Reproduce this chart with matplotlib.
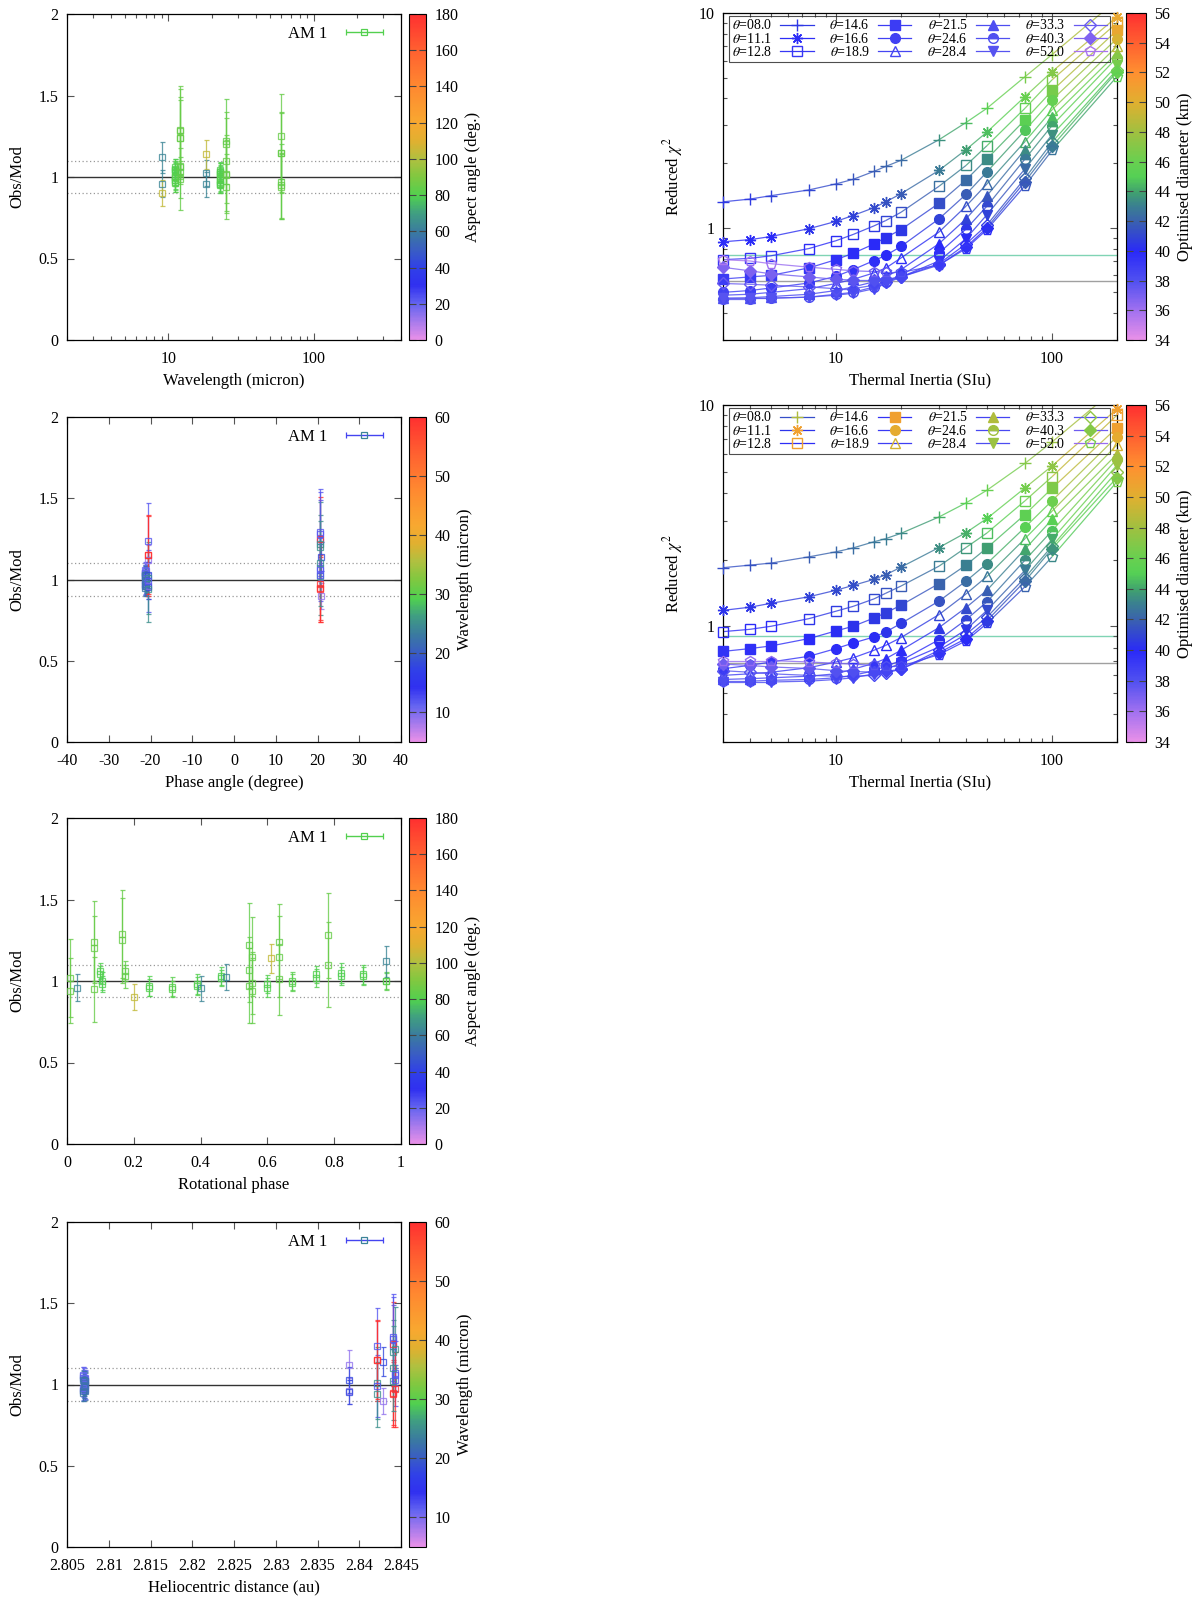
import numpy as np
import matplotlib
matplotlib.use("Agg")
import matplotlib.pyplot as plt
from matplotlib.colors import LinearSegmentedColormap, Normalize
from matplotlib.collections import LineCollection
from matplotlib.lines import Line2D
from matplotlib.cm import ScalarMappable
from matplotlib.legend_handler import HandlerErrorbar
from matplotlib.ticker import MultipleLocator, LogLocator, NullFormatter, FuncFormatter

plt.rcParams['font.family'] = ['Liberation Serif', 'DejaVu Serif']
plt.rcParams['mathtext.fontset'] = 'stix'
plt.rcParams['font.size'] = 11
plt.rcParams['axes.unicode_minus'] = False

# palettes
left_nodes = [0.0, 0.11, 0.167, 0.22, 0.28, 0.33, 0.39, 0.44, 0.5, 0.556, 0.61, 0.667, 0.78, 0.89, 1.0]
left_cols = ['#e890e8', '#6464f0', '#3030f0', '#3040e8', '#3a60c0', '#3a7aa0', '#40a080', '#50d050',
             '#80c840', '#b0c040', '#e0b030', '#f8a830', '#ff8830', '#ff6030', '#ff3030']
right_nodes = [0.0, 0.09, 0.18, 0.27, 0.36, 0.41, 0.45, 0.5, 0.545, 0.636, 0.727, 0.818, 0.909, 1.0]
right_cols = ['#e890e8', '#a070f0', '#5050f0', '#2a2af8', '#3a60b0', '#3a8090', '#40a070', '#55d055',
              '#68d050', '#a0c040', '#e0b030', '#ff9030', '#ff6030', '#ff3030']
cmap_l = LinearSegmentedColormap.from_list('gp_l', list(zip(left_nodes, left_cols)))
cmap_r = LinearSegmentedColormap.from_list('gp_r', list(zip(right_nodes, right_cols)))

# ---- observations (WISE 24, AKARI 6, IRAS 20)
obs_wave = [11.1, 22.6, 11.1, 22.6, 11.1, 22.6, 11.1, 22.6, 11.1, 22.6, 11.1, 22.6,
            11.1, 22.6, 11.1, 22.6, 11.1, 22.6, 11.1, 22.6, 11.1, 22.6, 11.1, 22.6,
            9.0, 9.0, 18.0, 18.0, 9.0, 18.0,
            12, 60, 25, 12, 25, 60, 25, 60, 12, 25, 60, 12, 60, 12, 12, 25, 12, 60, 12, 25]
obs_ratio = [1.06, 1.04, 1.00, 0.98, 0.97, 0.96, 0.965, 0.95, 0.98, 0.97, 1.03, 1.02,
             0.98, 0.96, 1.00, 0.99, 1.04, 1.02, 1.05, 1.03, 1.04, 1.03, 1.00, 1.00,
             1.12, 0.96, 1.025, 0.955, 0.90, 1.14,
             1.24, 1.15, 1.01, 0.99, 0.94, 1.15, 1.02, 0.94, 1.24, 1.20, 0.95, 1.29, 1.25,
             1.06, 1.03, 1.22, 1.07, 0.97, 1.28, 1.10]
obs_err = [0.05, 0.05, 0.055, 0.05, 0.06, 0.055, 0.06, 0.05, 0.06, 0.055, 0.055, 0.05,
           0.055, 0.06, 0.055, 0.05, 0.05, 0.055, 0.06, 0.055, 0.06, 0.055, 0.05, 0.055,
           0.095, 0.08, 0.08, 0.075, 0.08, 0.09,
           0.23, 0.25, 0.22, 0.19, 0.20, 0.24, 0.24, 0.20, 0.25, 0.20, 0.20, 0.27, 0.26,
           0.06, 0.07, 0.26, 0.20, 0.23, 0.26, 0.26]
obs_aspect = [80, 80, 79, 79, 80, 80, 81, 81, 80, 80, 79, 79,
              80, 80, 81, 81, 80, 80, 79, 79, 80, 80, 81, 81,
              63, 63, 63, 63, 104, 104,
              84, 84, 84, 84, 84, 84, 85, 85, 85, 85, 85, 85, 85,
              83, 83, 83, 83, 83, 85, 85]
obs_phase = [-21.3, -21.3, -21.1, -21.1, -21.4, -21.4, -21.2, -21.2, -21.0, -21.0, -21.3, -21.3,
             -21.1, -21.1, -21.4, -21.4, -21.2, -21.2, -21.0, -21.0, -21.3, -21.3, -21.1, -21.1,
             -20.5, -20.5, -20.5, -20.5, 20.9, 20.9,
             -20.6, -20.6, -20.6, -20.6, -20.6, -20.6, 20.5, 20.5, 20.5, 20.5, 20.5, 20.5, 20.5,
             20.5, 20.5, 20.5, 20.5, 20.5, 20.5, 20.5]
obs_rot = [0.10, 0.10, 0.105, 0.105, 0.245, 0.245, 0.315, 0.315, 0.39, 0.39, 0.46, 0.46,
           0.60, 0.60, 0.675, 0.675, 0.745, 0.745, 0.82, 0.82, 0.885, 0.885, 0.955, 0.955,
           0.955, 0.03, 0.475, 0.40, 0.20, 0.61,
           0.635, 0.635, 0.635, 0.555, 0.555, 0.555, 0.01, 0.01, 0.08, 0.08, 0.08, 0.165, 0.165,
           0.175, 0.175, 0.545, 0.545, 0.545, 0.78, 0.78]
obs_rh = [2.8069, 2.8069, 2.8070, 2.8070, 2.8071, 2.8071, 2.8069, 2.8069, 2.8070, 2.8070, 2.8071, 2.8071,
          2.8069, 2.8069, 2.8070, 2.8070, 2.8071, 2.8071, 2.8069, 2.8069, 2.8070, 2.8070, 2.8071, 2.8071,
          2.8388, 2.8388, 2.8388, 2.8388, 2.8429, 2.8429,
          2.8421, 2.8421, 2.8421, 2.8421, 2.8421, 2.8421, 2.8440, 2.8440, 2.8440, 2.8440, 2.8440, 2.8440, 2.8440,
          2.8443, 2.8443, 2.8443, 2.8443, 2.8443, 2.8440, 2.8440]

# ---- thermal inertia fits
ti = [3, 4, 5, 7.5, 10, 12, 15, 17, 20, 30, 40, 50, 75, 100, 200]
theta_labels = [r'$\theta$=08.0', r'$\theta$=11.1', r'$\theta$=12.8', r'$\theta$=14.6',
                r'$\theta$=16.6', r'$\theta$=18.9', r'$\theta$=21.5', r'$\theta$=24.6',
                r'$\theta$=28.4', r'$\theta$=33.3', r'$\theta$=40.3', r'$\theta$=52.0']

chi_a = [
    [1.32, 1.36, 1.41, 1.50, 1.60, 1.68, 1.83, 1.93, 2.06, 2.57, 3.09, 3.60, 5.05, 6.40, 11.5],
    [0.86, 0.88, 0.91, 0.99, 1.07, 1.14, 1.24, 1.32, 1.44, 1.85, 2.31, 2.79, 4.08, 5.33, 9.6],
    [0.71, 0.72, 0.74, 0.80, 0.87, 0.93, 1.02, 1.08, 1.18, 1.56, 1.95, 2.41, 3.60, 4.88, 9.0],
    [0.577, 0.59, 0.60, 0.65, 0.71, 0.76, 0.84, 0.90, 0.98, 1.30, 1.67, 2.09, 3.18, 4.34, 8.3],
    [0.50, 0.51, 0.524, 0.553, 0.594, 0.638, 0.703, 0.743, 0.818, 1.10, 1.43, 1.82, 2.84, 3.94, 7.6],
    [0.485, 0.49, 0.50, 0.52, 0.55, 0.575, 0.616, 0.649, 0.723, 0.955, 1.26, 1.60, 2.52, 3.54, 7.0],
    [0.47, 0.472, 0.478, 0.49, 0.51, 0.53, 0.56, 0.594, 0.638, 0.843, 1.10, 1.41, 2.31, 3.27, 6.5],
    [0.468, 0.468, 0.47, 0.475, 0.49, 0.50, 0.53, 0.56, 0.60, 0.763, 0.986, 1.26, 2.09, 2.99, 6.2],
    [0.47, 0.47, 0.47, 0.475, 0.485, 0.495, 0.52, 0.55, 0.59, 0.70, 0.89, 1.15, 1.88, 2.71, 5.7],
    [0.55, 0.545, 0.54, 0.53, 0.52, 0.52, 0.54, 0.56, 0.59, 0.68, 0.84, 1.03, 1.70, 2.50, 5.45],
    [0.654, 0.63, 0.61, 0.59, 0.575, 0.57, 0.57, 0.575, 0.59, 0.67, 0.813, 1.00, 1.64, 2.39, 5.33],
    [0.71, 0.70, 0.68, 0.655, 0.64, 0.63, 0.625, 0.62, 0.62, 0.67, 0.80, 0.98, 1.57, 2.29, 5.06],
]
diam_a = [
    [40.5, 40.6, 40.8, 41.0, 41.3, 41.5, 41.8, 42.0, 42.3, 43.5, 44.5, 45.3, 46.5, 47.3, 49.5],
    [39.8, 39.9, 40.0, 40.3, 40.6, 40.8, 41.2, 41.4, 41.8, 42.8, 43.8, 44.6, 46.0, 47.0, 50.5],
    [39.3, 39.4, 39.5, 39.8, 40.1, 40.3, 40.6, 40.9, 41.3, 42.5, 43.3, 44.2, 45.6, 46.8, 50.5],
    [39.0, 39.1, 39.2, 39.4, 39.6, 39.8, 40.0, 40.2, 40.5, 41.3, 42.3, 43.3, 45.3, 46.5, 50.5],
    [38.8, 38.9, 39.0, 39.2, 39.4, 39.5, 39.7, 39.9, 40.1, 40.8, 41.8, 42.8, 44.8, 45.8, 49.8],
    [38.5, 38.6, 38.7, 38.8, 39.0, 39.1, 39.3, 39.5, 39.7, 40.4, 41.3, 42.2, 44.2, 45.3, 49.0],
    [38.2, 38.3, 38.4, 38.5, 38.7, 38.8, 39.0, 39.2, 39.4, 40.0, 40.8, 41.5, 43.3, 44.5, 47.5],
    [38.0, 38.0, 38.1, 38.2, 38.4, 38.5, 38.7, 38.9, 39.1, 39.7, 40.4, 41.1, 42.8, 44.0, 47.0],
    [37.8, 37.8, 37.9, 38.0, 38.2, 38.3, 38.5, 38.7, 38.9, 39.5, 40.1, 40.8, 42.3, 43.5, 46.5],
    [37.4, 37.4, 37.5, 37.6, 37.8, 38.0, 38.2, 38.4, 38.7, 39.3, 39.8, 40.5, 42.0, 43.2, 46.2],
    [36.8, 36.9, 37.0, 37.2, 37.5, 37.7, 38.0, 38.2, 38.5, 39.1, 39.6, 40.2, 41.8, 42.9, 45.8],
    [35.8, 35.9, 36.0, 36.3, 36.6, 36.9, 37.3, 37.6, 38.0, 38.8, 39.4, 40.0, 41.5, 42.6, 45.5],
]
chi_b = [
    [1.84, 1.89, 1.93, 2.06, 2.17, 2.26, 2.41, 2.49, 2.63, 3.12, 3.61, 4.12, 5.45, 6.80, 12.0],
    [1.18, 1.22, 1.27, 1.36, 1.455, 1.53, 1.63, 1.71, 1.85, 2.27, 2.65, 3.07, 4.22, 5.30, 9.6],
    [0.946, 0.969, 1.00, 1.083, 1.17, 1.23, 1.33, 1.41, 1.52, 1.87, 2.27, 2.64, 3.69, 4.74, 9.0],
    [0.77, 0.793, 0.815, 0.88, 0.953, 1.00, 1.09, 1.15, 1.245, 1.56, 1.89, 2.26, 3.20, 4.20, 7.9],
    [0.643, 0.666, 0.69, 0.732, 0.793, 0.84, 0.895, 0.943, 1.03, 1.30, 1.60, 1.92, 2.80, 3.69, 7.2],
    [0.60, 0.61, 0.62, 0.65, 0.69, 0.72, 0.779, 0.82, 0.889, 1.13, 1.40, 1.68, 2.49, 3.31, 6.6],
    [0.575, 0.58, 0.585, 0.595, 0.61, 0.64, 0.68, 0.714, 0.779, 0.987, 1.215, 1.455, 2.23, 3.04, 6.0],
    [0.565, 0.565, 0.57, 0.575, 0.585, 0.60, 0.63, 0.66, 0.70, 0.87, 1.07, 1.29, 1.99, 2.70, 5.7],
    [0.56, 0.56, 0.56, 0.565, 0.575, 0.585, 0.61, 0.64, 0.68, 0.806, 0.966, 1.18, 1.79, 2.47, 5.35],
    [0.63, 0.62, 0.61, 0.60, 0.595, 0.595, 0.60, 0.615, 0.64, 0.78, 0.92, 1.10, 1.66, 2.30, 5.0],
    [0.675, 0.665, 0.655, 0.645, 0.63, 0.625, 0.62, 0.625, 0.64, 0.76, 0.88, 1.06, 1.60, 2.24, 4.7],
    [0.70, 0.70, 0.70, 0.69, 0.68, 0.675, 0.665, 0.66, 0.66, 0.745, 0.86, 1.03, 1.51, 2.06, 4.5],
]
diam_b = [
    [41.3, 41.4, 41.6, 41.9, 42.2, 42.4, 42.7, 42.9, 43.2, 44.3, 45.2, 45.9, 47.0, 47.8, 48.5],
    [40.3, 40.4, 40.5, 40.8, 41.1, 41.3, 41.7, 41.9, 42.3, 43.4, 44.3, 45.0, 46.4, 47.4, 51.0],
    [39.8, 39.9, 40.0, 40.3, 40.6, 40.8, 41.1, 41.4, 41.8, 42.9, 43.7, 44.6, 46.0, 47.2, 51.0],
    [39.5, 39.6, 39.7, 39.9, 40.1, 40.3, 40.5, 40.7, 41.0, 42.0, 43.0, 43.8, 45.5, 46.8, 51.0],
    [39.2, 39.3, 39.4, 39.6, 39.8, 39.9, 40.1, 40.3, 40.6, 41.4, 42.4, 43.3, 45.2, 46.2, 50.3],
    [38.9, 39.0, 39.1, 39.2, 39.4, 39.5, 39.7, 39.9, 40.2, 41.0, 41.8, 42.7, 44.6, 45.7, 49.6],
    [38.6, 38.7, 38.8, 38.9, 39.1, 39.2, 39.4, 39.6, 39.8, 40.5, 41.2, 41.9, 44.0, 45.2, 48.5],
    [38.4, 38.4, 38.5, 38.6, 38.8, 38.9, 39.1, 39.3, 39.5, 40.2, 40.9, 41.6, 43.4, 44.7, 48.0],
    [38.2, 38.2, 38.3, 38.4, 38.6, 38.7, 38.9, 39.1, 39.3, 39.9, 40.5, 41.2, 42.9, 44.2, 47.8],
    [37.8, 37.8, 37.9, 38.0, 38.2, 38.4, 38.6, 38.8, 39.1, 39.7, 40.2, 40.9, 42.5, 43.8, 47.4],
    [37.2, 37.3, 37.4, 37.6, 37.9, 38.1, 38.4, 38.6, 38.9, 39.5, 40.0, 40.6, 42.3, 43.6, 47.0],
    [36.2, 36.3, 36.4, 36.7, 37.0, 37.3, 37.7, 38.0, 38.4, 39.2, 39.8, 40.4, 42.0, 43.2, 46.5],
]
ref_a = [0.75, 0.567]   # teal, grey reference levels
ref_b = [0.90, 0.685]

mk_shape = ['+', (8, 2, 0), 's', 's', 'o', '^', '^', 'o', 'v', 'D', 'D', 'p']
mk_fill = ['full', 'full', 'none', 'full', 'full', 'none', 'full', 'top', 'full', 'none', 'full', 'none']
mk_size = [8, 8, 7, 6.5, 7, 7, 7, 7, 7, 6, 6, 7.5]

W, H = 1200, 1603
fig = plt.figure(figsize=(W / 100, H / 100), dpi=100)


def box(x0, y0, x1, y1):
    return [x0 / W, 1 - y1 / H, (x1 - x0) / W, (y1 - y0) / H]


gfmt = FuncFormatter(lambda v, p: '%g' % v)


def style_axes(ax):
    ax.tick_params(which='both', direction='in', top=True, right=True, color='#555555', width=0.8,
                   labelsize=11.5)
    ax.tick_params(which='major', length=5)
    ax.tick_params(which='minor', length=3)
    ax.tick_params(axis='x', which='both', pad=8)
    ax.tick_params(axis='y', which='both', pad=6)
    for s in ax.spines.values():
        s.set_linewidth(0.9)


def add_cbar(rect, cmap, norm, ticks, label):
    cax = fig.add_axes(rect)
    cb = fig.colorbar(ScalarMappable(norm=norm, cmap=cmap), cax=cax, ticks=ticks)
    cb.outline.set_linewidth(0.8)
    cax.tick_params(direction='in', left=True, right=True, length=5, width=0.8, color='#444444',
                    labelsize=11.5, pad=6)
    cax.yaxis.set_major_formatter(gfmt)
    cb.set_label(label, fontsize=12, labelpad=5)
    return cb


def obs_panel(rect, xvals, cvals, cmap, norm, xlabel, leg_line, leg_mark):
    ax = fig.add_axes(rect)
    for x, y, e, c in zip(xvals, obs_ratio, obs_err, cvals):
        col = cmap(norm(c))
        ax.errorbar([x], [y], yerr=[e], fmt='s', ms=5, mfc='none', mec=col, mew=0.9,
                    ecolor=col, elinewidth=0.9, capsize=1.8, capthick=0.9, alpha=0.8, zorder=3)
    ax.axhline(1.0, color='#333333', lw=1.0, zorder=2)
    for yv in (0.9, 1.1):
        ax.axhline(yv, color='#999999', lw=0.9, ls=(0, (1, 2)), zorder=2)
    h = ax.errorbar([np.nan], [np.nan], xerr=[1.0], fmt='s', ms=5, mfc='none', mec=leg_mark,
                    mew=0.9, ecolor=leg_line, elinewidth=1.0, capsize=2.5, capthick=1.0)
    ax.legend([h], ['AM 1'], loc='upper right', frameon=False, markerfirst=False,
              handlelength=3.0, fontsize=12, borderaxespad=0.3, handletextpad=0.7,
              handler_map={type(h): HandlerErrorbar(xerr_size=1.1)})
    ax.set_ylim(0, 2)
    ax.yaxis.set_major_locator(MultipleLocator(0.5))
    ax.yaxis.set_major_formatter(gfmt)
    ax.set_ylabel('Obs/Mod', fontsize=12, labelpad=10)
    ax.set_xlabel(xlabel, fontsize=12, labelpad=4)
    style_axes(ax)
    return ax


def marker_kw(i, col):
    kw = dict(marker=mk_shape[i], ms=mk_size[i], mec=col, mew=1.0)
    if mk_fill[i] == 'none':
        kw['mfc'] = 'none'
    elif mk_fill[i] == 'top':
        kw.update(mfc=col, fillstyle='top', markerfacecoloralt='none')
    else:
        kw['mfc'] = col
    return kw


norm_r = Normalize(34, 56)


def fit_panel(rect, chi, diam, refs, leg_from_last):
    ax = fig.add_axes(rect)
    ax.set_xscale('log')
    ax.set_yscale('log')
    ax.set_xlim(3, 200)
    ax.set_ylim(0.3, 10)
    ax.axhline(refs[0], color='#80d4b4', lw=1.0, zorder=1)
    ax.axhline(refs[1], color='#a0a0a0', lw=1.0, zorder=1)
    handles = []
    for i in range(len(theta_labels)):
        y = np.array(chi[i])
        d = np.array(diam[i])
        segs = [[(ti[j], y[j]), (ti[j + 1], y[j + 1])] for j in range(len(ti) - 1)]
        lc = LineCollection(segs, colors=cmap_r(norm_r((d[:-1] + d[1:]) / 2)), linewidths=0.9,
                            alpha=0.8, zorder=2)
        ax.add_collection(lc, autolim=False)
        for x, v, dd in zip(ti, y, d):
            if v > 10:
                continue
            ax.plot([x], [v], linestyle='none', clip_on=False, zorder=3,
                    **marker_kw(i, cmap_r(norm_r(dd))))
        mcol = cmap_r(norm_r(d[-1] if leg_from_last else d[0]))
        handles.append(Line2D([], [], color=cmap_r(norm_r(d[0])), lw=0.9, **marker_kw(i, mcol)))
    leg = ax.legend(handles, theta_labels, ncol=4, loc='upper left',
                    bbox_to_anchor=(0.015, 0.992, 0.967, 0), mode='expand', markerfirst=False,
                    fontsize=10, labelspacing=-0.05, handlelength=2.4, handletextpad=0.6,
                    columnspacing=0.6, borderpad=0.2, fancybox=False, edgecolor='#222222',
                    borderaxespad=0.0)
    leg.get_frame().set_facecolor('none')
    leg.get_frame().set_linewidth(0.8)
    ax.xaxis.set_major_formatter(gfmt)
    ax.yaxis.set_major_formatter(gfmt)
    ax.xaxis.set_minor_locator(LogLocator(subs=np.arange(2, 10)))
    ax.yaxis.set_minor_locator(LogLocator(subs=np.arange(2, 10)))
    ax.xaxis.set_minor_formatter(NullFormatter())
    ax.yaxis.set_minor_formatter(NullFormatter())
    ax.set_xlabel('Thermal Inertia (SIu)', fontsize=12, labelpad=4)
    ax.set_ylabel(r'Reduced $\chi^2$', fontsize=12, labelpad=10)
    style_axes(ax)
    return ax


# ---- left column
rows = [(14, 340), (417, 742), (818, 1144), (1222, 1547)]
norm_asp = Normalize(0, 180)
norm_wl = Normalize(5, 60)
green = cmap_l(norm_asp(80))
blue = cmap_l(norm_wl(13))
teal = cmap_l(norm_wl(24))

ax1 = obs_panel(box(67, rows[0][0], 401, rows[0][1]),
                obs_wave, obs_aspect, cmap_l, norm_asp, 'Wavelength (micron)', green, green)
ax1.set_xscale('log')
ax1.set_xlim(2, 400)
ax1.xaxis.set_major_formatter(gfmt)
ax1.xaxis.set_minor_locator(LogLocator(subs=np.arange(2, 10)))
ax1.xaxis.set_minor_formatter(NullFormatter())
style_axes(ax1)
add_cbar(box(409, rows[0][0], 426, rows[0][1]), cmap_l, norm_asp, range(0, 181, 20), 'Aspect angle (deg.)')

ax2 = obs_panel(box(67, rows[1][0], 401, rows[1][1]), obs_phase, obs_wave, cmap_l, norm_wl,
                'Phase angle (degree)', blue, teal)
ax2.set_xlim(-40, 40)
ax2.xaxis.set_major_locator(MultipleLocator(10))
ax2.xaxis.set_major_formatter(gfmt)
add_cbar(box(409, rows[1][0], 426, rows[1][1]), cmap_l, norm_wl, range(10, 61, 10), 'Wavelength (micron)')

ax3 = obs_panel(box(67, rows[2][0], 401, rows[2][1]), obs_rot, obs_aspect, cmap_l, norm_asp,
                'Rotational phase', green, green)
ax3.set_xlim(0, 1)
ax3.xaxis.set_major_locator(MultipleLocator(0.2))
ax3.xaxis.set_major_formatter(gfmt)
add_cbar(box(409, rows[2][0], 426, rows[2][1]), cmap_l, norm_asp, range(0, 181, 20), 'Aspect angle (deg.)')

ax4 = obs_panel(box(67, rows[3][0], 401, rows[3][1]), obs_rh, obs_wave, cmap_l, norm_wl,
                'Heliocentric distance (au)', blue, teal)
ax4.set_xlim(2.805, 2.845)
ax4.xaxis.set_major_locator(MultipleLocator(0.005))
ax4.xaxis.set_major_formatter(gfmt)
add_cbar(box(409, rows[3][0], 426, rows[3][1]), cmap_l, norm_wl, range(10, 61, 10), 'Wavelength (micron)')

# ---- right column
fit_panel(box(723, 13, 1117, 340), chi_a, diam_a, ref_a, False)
add_cbar(box(1126, 13, 1146, 340), cmap_r, norm_r, range(34, 57, 2), 'Optimised diameter (km)')
fit_panel(box(723, 405, 1117, 742), chi_b, diam_b, ref_b, True)
add_cbar(box(1126, 405, 1146, 742), cmap_r, norm_r, range(34, 57, 2), 'Optimised diameter (km)')

fig.savefig('out.png', dpi=100)
